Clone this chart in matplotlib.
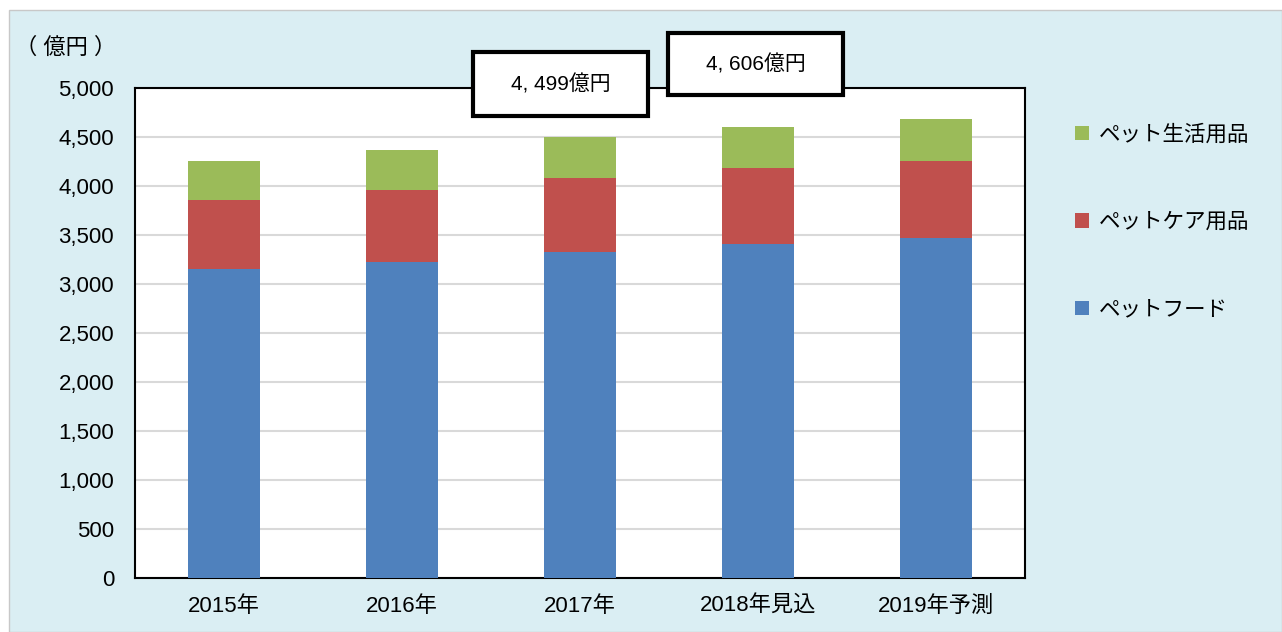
import numpy as np
import matplotlib.pyplot as plt
from matplotlib.patches import Rectangle

plt.rcParams['font.family'] = ['Liberation Sans', 'Noto Sans CJK JP', 'DejaVu Sans']

years = ['2015年', '2016年', '2017年', '2018年見込', '2019年予測']
food = [3153, 3228, 3323, 3408, 3466]
care = [707, 734, 762, 779, 792]
life = [395, 405, 414, 419, 423]
labels = ['ペットフード', 'ペットケア用品', 'ペット生活用品']
colors = ['#4F81BD', '#C0504D', '#9BBB59']
callouts = ['4, 499億円', '4, 606億円']

W, H = 1282, 632
fig = plt.figure(figsize=(W / 100, H / 100), dpi=100)
fig.patch.set_facecolor('white')
bg = Rectangle((9 / W, 0), 1 - 9 / W, 1 - 10 / H, transform=fig.transFigure,
               facecolor='#DAEEF3', edgecolor='#C8C8C8', lw=1, zorder=-5)
fig.add_artist(bg)

ax = fig.add_axes([135 / W, 1 - 578 / H, 890 / W, 490 / H])
ax.set_facecolor('white')
x = np.arange(len(years))
food = np.array(food)
care = np.array(care)
life = np.array(life)
b1 = ax.bar(x, food, 0.4, color=colors[0], zorder=3)
b2 = ax.bar(x, care, 0.4, bottom=food, color=colors[1], zorder=3)
b3 = ax.bar(x, life, 0.4, bottom=food + care, color=colors[2], zorder=3)

ax.set_xlim(-0.5, len(years) - 0.5)
ax.set_ylim(0, 5000)
ax.set_yticks(range(0, 5001, 500))
ax.set_yticklabels([f'{v:,}' for v in range(0, 5001, 500)])
ax.set_xticks(x)
ax.set_xticklabels(years)
ax.tick_params(axis='both', length=0, labelsize=16, colors='black')
ax.tick_params(axis='x', pad=13)
ax.tick_params(axis='y', pad=15)
ax.grid(axis='y', color='#D9D9D9', lw=1.5, zorder=0)
for s in ax.spines.values():
    s.set_linewidth(1.5)
    s.set_color('black')

fig.text(15 / W, 1 - 48 / H, '（ 億円 ）', fontsize=16, va='center', ha='left')

# callout boxes (pixel rectangles: x0, y0, x1, y1)
boxes = [(473, 52, 648, 116), (668, 33, 843, 95)]
for (x0, y0, x1, y1), txt in zip(boxes, callouts):
    r = Rectangle((x0 / W, 1 - y1 / H), (x1 - x0) / W, (y1 - y0) / H,
                  transform=fig.transFigure, facecolor='white', edgecolor='black',
                  lw=3, zorder=10)
    fig.add_artist(r)
    fig.text((x0 + x1) / 2 / W, 1 - (y0 + y1) / 2 / H, txt, fontsize=15,
             ha='center', va='center', zorder=11)

leg = fig.legend([b3, b2, b1], labels[::-1], loc='upper left',
                 bbox_to_anchor=(1056 / W, 1 - 105 / H), frameon=False, fontsize=15.5,
                 handlelength=0.65, handleheight=0.65, handletextpad=0.45, labelspacing=3.1)

fig.savefig('out.png', dpi=100)
